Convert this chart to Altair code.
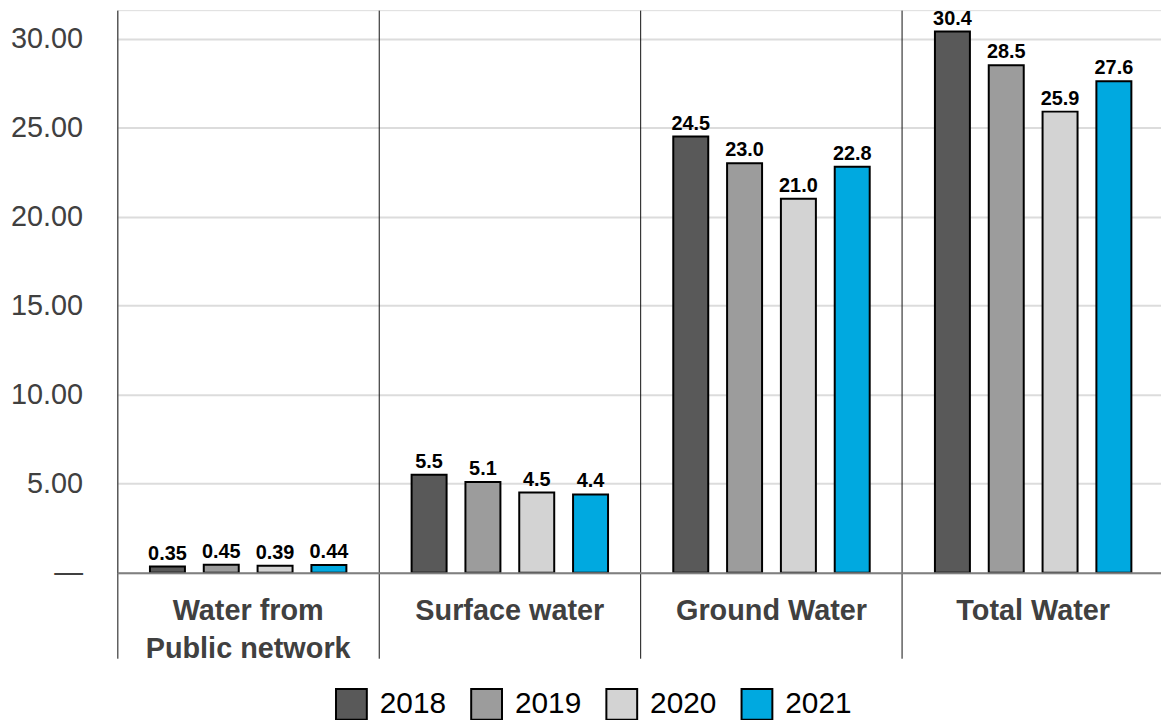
import altair as alt
import pandas as pd

categories = ["Water from Public network", "Surface water", "Ground Water", "Total Water"]
years = ["2018", "2019", "2020", "2021"]
colors = ["#595959", "#9c9c9c", "#d3d3d3", "#00a9e0"]

public_network = [0.35, 0.45, 0.39, 0.44]
surface_water = [5.5, 5.1, 4.5, 4.4]
ground_water = [24.5, 23.0, 21.0, 22.8]
total_water = [30.4, 28.5, 25.9, 27.6]

series = [public_network, surface_water, ground_water, total_water]

rows = []
for cat, vals in zip(categories, series):
    for yr, v in zip(years, vals):
        lbl = f"{v:.2f}" if v < 1 else f"{v:.1f}"
        rows.append({"category": cat, "year": yr, "value": v, "label": lbl})
df = pd.DataFrame(rows)

FONT = "Liberation Sans"

x_enc = alt.X(
    "category:N",
    sort=categories,
    scale=alt.Scale(paddingInner=0, paddingOuter=0, range=[0, 1053]),
    axis=alt.Axis(
        title=None,
        labelFont=FONT,
        labelFontSize=29,
        labelFontWeight="bold",
        labelColor="#404040",
        labelPadding=-62,
        labelLineHeight=38,
        labelLimit=400,
        labelOverlap=False,
        labelAngle=0,
        labelExpr="datum.label == 'Water from Public network' ? ['Water from', 'Public network'] : datum.label",
        bandPosition=0,
        ticks=True,
        tickSize=86,
        tickColor="#111111",
        tickWidth=1,
        grid=True,
        gridColor="#111111",
        gridWidth=1,
        domain=True,
        domainColor="#808080",
        domainWidth=2,
        zindex=1,
    ),
)
xoff = alt.XOffset(
    "year:N",
    sort=years,
    scale=alt.Scale(paddingInner=0.35, paddingOuter=0.606),
)
y_enc = alt.Y(
    "value:Q",
    scale=alt.Scale(domain=[0, 31.6], nice=False, zero=True),
    axis=alt.Axis(
        title=None,
        values=[0, 5, 10, 15, 20, 25, 30],
        labelExpr="datum.value == 0 ? '—' : format(datum.value, '.2f')",
        labelFont=FONT,
        labelFontSize=29,
        labelColor="#404040",
        labelPadding=35,
        ticks=False,
        domain=False,
        grid=True,
        gridColor="#dcdcdc",
        gridWidth=2,
        zindex=0,
    ),
)

bars = alt.Chart(df).mark_bar(stroke="black", strokeWidth=2).encode(
    x=x_enc,
    xOffset=xoff,
    y=y_enc,
    color=alt.Color(
        "year:N",
        sort=years,
        scale=alt.Scale(domain=years, range=colors),
        legend=alt.Legend(
            title=None,
            orient="none",
            direction="horizontal",
            legendX=219,
            legendY=682,
            columns=4,
            symbolType="square",
            symbolSize=961,
            symbolStrokeColor="black",
            symbolStrokeWidth=2,
            symbolOpacity=1,
            labelFont=FONT,
            labelFontSize=30,
            labelColor="black",
            labelOffset=12,
            columnPadding=21,
            padding=0,
        ),
    ),
)

labels = alt.Chart(df).mark_text(
    font=FONT, fontSize=20, fontWeight="bold", color="black",
    baseline="alphabetic", dy=-7,
).encode(
    x=alt.X("category:N", sort=categories),
    xOffset=alt.XOffset("year:N", sort=years),
    y=alt.Y("value:Q"),
    text="label:N",
)

chart = (
    alt.layer(bars, labels)
    .properties(
        width=1050,
        height=566,
        autosize=alt.AutoSizeParams(type="none"),
        padding={"left": 110, "top": 0, "right": 0, "bottom": 146},
    )
    .configure_view(stroke=None)
    .configure(background="white")
)

chart.save("out.html", embed_options={"renderer": "svg", "actions": False})
